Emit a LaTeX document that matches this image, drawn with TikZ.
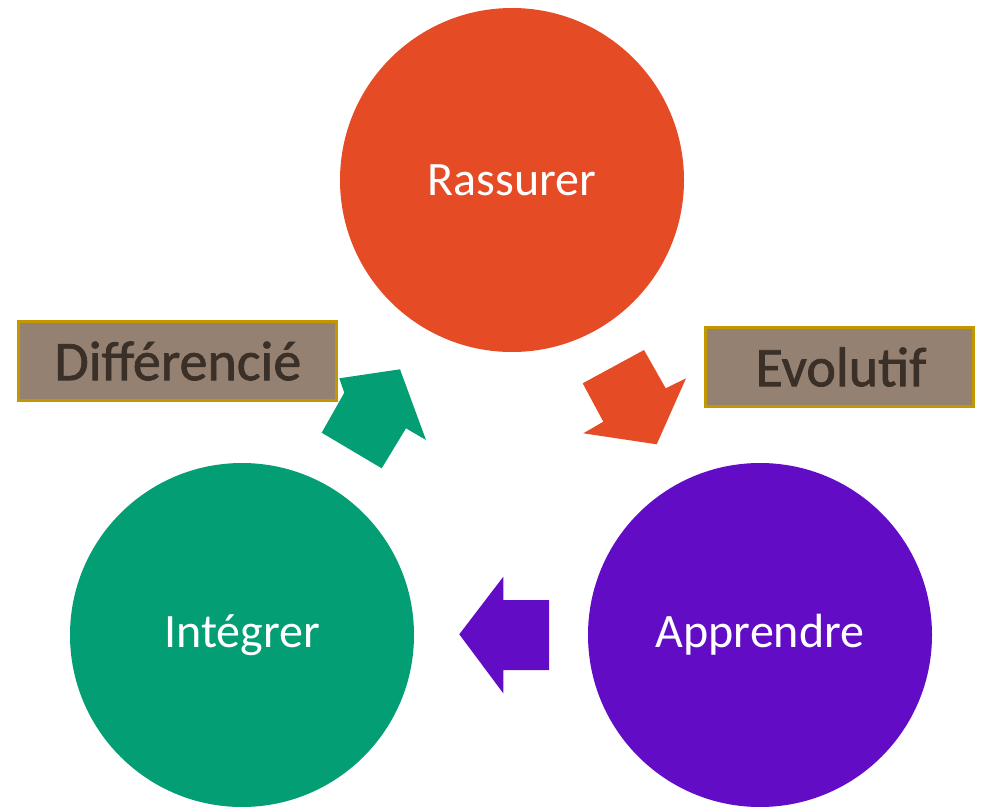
\documentclass[tikz,border=0pt]{standalone}
\usepackage{fontspec}
\setmainfont{Carlito}
\newfontfamily\tagfont[FakeBold=1.3]{Carlito}
\definecolor{rassurercol}{HTML}{E54B25}
\definecolor{apprendrecol}{HTML}{630CC6}
\definecolor{integrercol}{HTML}{039E74}
\definecolor{tagfill}{HTML}{958171}
\definecolor{tagline}{HTML}{C29700}
\definecolor{tagtext}{HTML}{3A3028}
\tikzset{
  stage/.style={circle, minimum size=344pt, inner sep=0pt, text=white,
    font=\fontsize{48}{52}\selectfont},
  tag/.style={draw=tagline, line width=3pt, fill=tagfill},
  tagtxt/.style={text=tagtext, inner sep=0pt, font=\tagfont\fontsize{56}{60}\selectfont},
}
\begin{document}
\begin{tikzpicture}[x=1pt, y=-1pt]
  \useasboundingbox (0,0) rectangle (982,806);

  % the three stages
  \node[stage, fill=rassurercol]  (rassurer)  at (512,180) {Rassurer};
  \node[stage, fill=apprendrecol] (apprendre) at (760,635) {Apprendre};
  \node[stage, fill=integrercol]  (integrer)  at (242,635) {Intégrer};

  % block arrows between the stages
  \fill[rassurercol] (582.7,383.3) -- (644,350) -- (665.7,388.3) -- (686,378.3)
    -- (656.7,444.3) -- (583.3,433.3) -- (603.3,421.7) -- cycle;
  \fill[apprendrecol] (549,600) -- (503.3,600) -- (503.3,576.7) -- (459.3,634.3)
    -- (503.3,693.3) -- (503.3,670) -- (549,670) -- cycle;
  \fill[integrercol] (381.7,468.3) -- (321.7,432.7) -- (344.3,392.7) -- (339.3,378.3)
    -- (400,369.3) -- (426,440) -- (406,428.3) -- cycle;

  % labels on the transitions
  \path[tag] (18.8,321.5) rectangle (336.8,400.2);
  \node[tagtxt] (differencie) at (177.8,361) {Différencié};
  \path[tag] (705.5,327.5) rectangle (973.5,406.8);
  \node[tagtxt] (evolutif) at (841,367) {Evolutif};
\end{tikzpicture}
\end{document}
